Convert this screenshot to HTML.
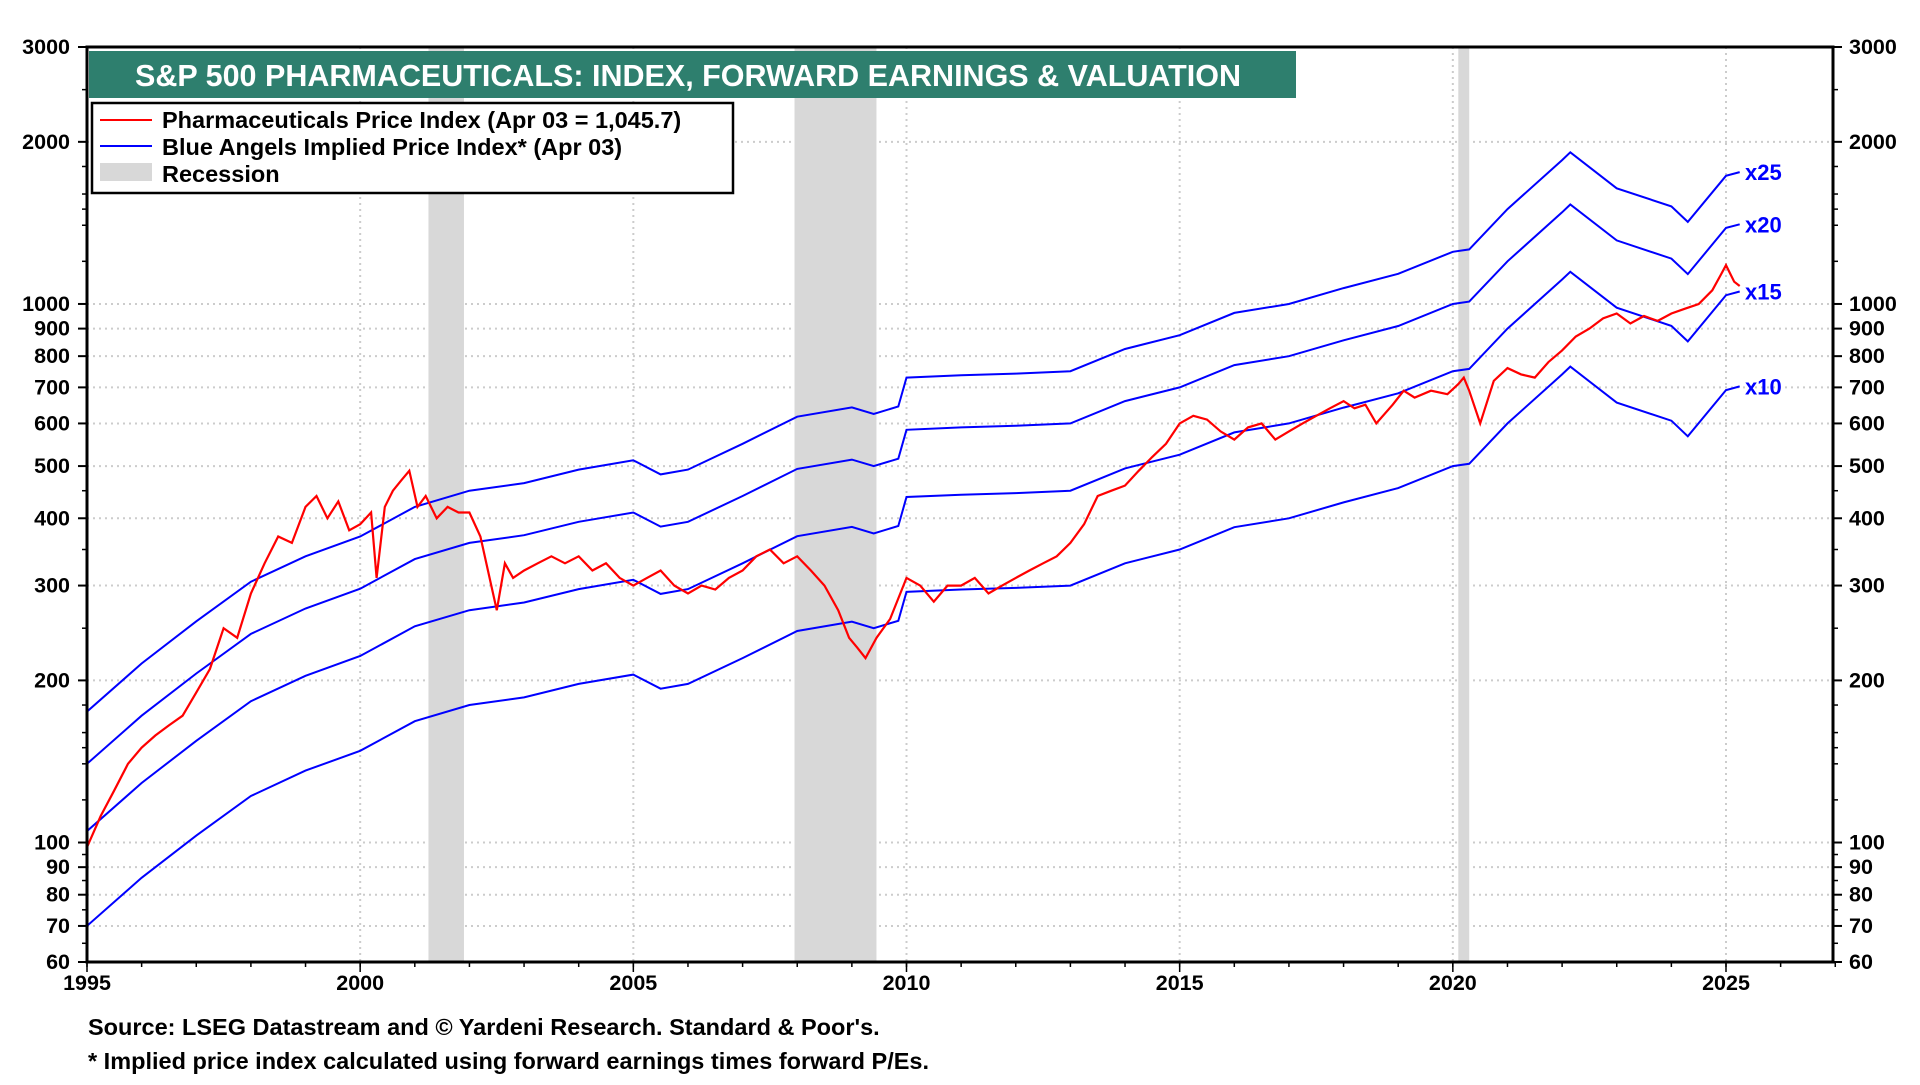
<!DOCTYPE html>
<html><head><meta charset="utf-8"><style>
body{margin:0;background:#fff;width:1920px;height:1080px;overflow:hidden;font-family:"Liberation Sans",Arial,sans-serif}
svg text{font-family:"Liberation Sans",Arial,sans-serif;font-weight:bold}
</style></head><body>
<svg id="chart" width="1920" height="1080" xmlns="http://www.w3.org/2000/svg">
<defs><clipPath id="plotclip"><rect x="87" y="47" width="1746" height="915"/></clipPath></defs>
<g id="grid"></g>
<g id="rec"></g>
<g id="series" clip-path="url(#plotclip)"></g>
<g id="labels"></g>
<g id="axes"></g>
<rect x="89" y="51" width="1207" height="47" fill="#2e7f6e"/>
<text x="135" y="86" font-size="30.5" fill="#fff">S&amp;P 500 PHARMACEUTICALS: INDEX, FORWARD EARNINGS &amp; VALUATION</text>
<g>
<rect x="92" y="103" width="641" height="90" fill="#fff" stroke="#000" stroke-width="2.5"/>
<line x1="100" y1="120" x2="152" y2="120" stroke="#f00" stroke-width="2"/>
<text x="162" y="128" font-size="23.5">Pharmaceuticals Price Index (Apr 03 = 1,045.7)</text>
<line x1="100" y1="146" x2="152" y2="146" stroke="#00f" stroke-width="2"/>
<text x="162" y="155" font-size="23.5">Blue Angels Implied Price Index* (Apr 03)</text>
<rect x="100" y="163" width="52" height="18" fill="#d8d8d8"/>
<text x="162" y="182" font-size="23.5">Recession</text>
</g>
<text x="88" y="1035" font-size="23.5">Source: LSEG Datastream and © Yardeni Research. Standard &amp; Poor's.</text>
<text x="88" y="1069" font-size="23.5">* Implied price index calculated using forward earnings times forward P/Es.</text>
</svg>
<script>
const yTicks=[3000,2000,1000,900,800,700,600,500,400,300,200,100,90,80,70,60];
const yMinor=[2500,1500,1800,1600,1400,1200,450,350,250,150,65,75,85,95,180,160,140,120];
const xTicks=[1995,2000,2005,2010,2015,2020,2025];
const recessions=[[2001.25,2001.9],[2007.95,2009.45],[2020.1,2020.3]];
const multiples=[10,15,20,25];
const multLabels=["x10","x15","x20","x25"];
const earnDates=[1995,1996,1997,1998,1999,2000,2001,2002,2003,2004,2005,2005.5,2006,2007,2008,2009,2009.4,2009.85,2010,2011,2012,2013,2014,2015,2016,2017,2018,2019,2020,2020.3,2021,2022,2022.15,2023,2024,2024.3,2025,2025.25];
const earnVals=[7.0,8.6,10.3,12.2,13.6,14.8,16.8,18.0,18.6,19.7,20.5,19.3,19.7,22.0,24.7,25.7,25.0,25.8,29.2,29.5,29.7,30.0,33.0,35.0,38.5,40.0,42.8,45.5,50.0,50.5,60.0,74.0,76.5,65.6,60.7,56.8,69.2,70.3];
const priceDates=[1995,1995.25,1995.5,1995.75,1996,1996.25,1996.5,1996.75,1997,1997.25,1997.5,1997.75,1998,1998.25,1998.5,1998.75,1999,1999.2,1999.4,1999.6,1999.8,2000,2000.2,2000.3,2000.45,2000.6,2000.75,2000.9,2001.05,2001.2,2001.4,2001.6,2001.8,2002,2002.2,2002.4,2002.5,2002.65,2002.8,2003,2003.25,2003.5,2003.75,2004,2004.25,2004.5,2004.75,2005,2005.25,2005.5,2005.75,2006,2006.25,2006.5,2006.75,2007,2007.25,2007.5,2007.75,2008,2008.25,2008.5,2008.75,2008.95,2009.1,2009.25,2009.45,2009.7,2010,2010.25,2010.5,2010.75,2011,2011.25,2011.5,2011.75,2012,2012.25,2012.5,2012.75,2013,2013.25,2013.5,2013.75,2014,2014.25,2014.5,2014.75,2015,2015.25,2015.5,2015.75,2016,2016.25,2016.5,2016.75,2017,2017.25,2017.5,2017.75,2018,2018.2,2018.4,2018.6,2018.9,2019.1,2019.3,2019.6,2019.9,2020.1,2020.2,2020.3,2020.5,2020.75,2021,2021.25,2021.5,2021.75,2022,2022.25,2022.5,2022.75,2023,2023.25,2023.5,2023.75,2024,2024.25,2024.5,2024.75,2024.9,2025,2025.15,2025.25];
const priceVals=[98,112,125,140,150,158,165,172,190,210,250,240,290,330,370,360,420,440,400,430,380,390,410,310,420,450,470,490,420,440,400,420,410,410,370,300,270,330,310,320,330,340,330,340,320,330,310,300,310,320,300,290,300,295,310,320,340,350,330,340,320,300,270,240,230,220,240,260,310,300,280,300,300,310,290,300,310,320,330,340,360,390,440,450,460,490,520,550,600,620,610,580,560,590,600,560,580,600,620,640,660,640,650,600,650,690,670,690,680,710,730,690,600,720,760,740,730,780,820,870,900,940,960,920,950,930,960,980,1000,1060,1130,1180,1100,1080,1070,1046];
const X0=87,X1=1833,Y0=47,Y1=962;
const xs=t=>X0+(t-1995)*(1726-87)/30;
const ys=v=>Y0+(Math.log10(3000)-Math.log10(v))*(Y1-Y0)/Math.log10(50);
const NS="http://www.w3.org/2000/svg";
function mk(tag,attrs,parent,txt){const e=document.createElementNS(NS,tag);for(const k in attrs)e.setAttribute(k,attrs[k]);if(txt!==undefined)e.textContent=txt;document.getElementById(parent).appendChild(e);return e;}
for(const v of yTicks){
 if(v!==3000&&v!==60){const g=mk('line',{x1:X0,x2:X1,y1:ys(v),y2:ys(v),stroke:'#ccc','stroke-width':2,'stroke-dasharray':'2,4'},'grid');
 
 }
 const l=mk('text',{x:70,y:ys(v)+7,'font-size':21.5,'text-anchor':'end'},'axes',String(v));
 
 
 const r=mk('text',{x:1849,y:ys(v)+7,'font-size':21.5},'axes',String(v));
 
 
 mk('line',{x1:X0-9,x2:X0,y1:ys(v),y2:ys(v),stroke:'#000','stroke-width':2},'axes');
 mk('line',{x1:X1,x2:X1+9,y1:ys(v),y2:ys(v),stroke:'#000','stroke-width':2},'axes');
}
for(const v of yMinor){mk('line',{x1:X0-5,x2:X0,y1:ys(v),y2:ys(v),stroke:'#000','stroke-width':1.5},'axes');mk('line',{x1:X1,x2:X1+5,y1:ys(v),y2:ys(v),stroke:'#000','stroke-width':1.5},'axes');}
for(const t of xTicks){
 if(t!==1995){const g=mk('line',{x1:xs(t),x2:xs(t),y1:Y0,y2:Y1,stroke:'#ccc','stroke-width':2,'stroke-dasharray':'2,4'},'grid');
 
 }
 const l=mk('text',{x:xs(t),y:990,'font-size':21.5,'text-anchor':'middle'},'axes',String(t));
 
 
 mk('line',{x1:xs(t),x2:xs(t),y1:Y1,y2:Y1+10,stroke:'#000','stroke-width':1.5},'axes');
}
for(let t=1995;t<=2027;t++)mk('line',{x1:xs(t),x2:xs(t),y1:Y1,y2:Y1+5,stroke:'#000','stroke-width':1.5},'axes');
mk('rect',{x:X0,y:Y0,width:X1-X0,height:Y1-Y0,fill:'none',stroke:'#000','stroke-width':3},'axes');
for(const r of recessions){const e=mk('rect',{x:xs(r[0]),y:Y0,width:xs(r[1])-xs(r[0]),height:Y1-Y0,fill:'#d8d8d8'},'rec');
 
 }
multiples.forEach((m,i)=>{
 const d=earnDates.map((t,j)=>(j?'L':'M')+xs(t).toFixed(1)+','+ys(earnVals[j]*m).toFixed(1)).join('');
 const p=mk('path',{d:d,fill:'none',stroke:'#00f','stroke-width':2},'series');
 
 
 const L=earnVals[earnVals.length-1]*m;
 const t=mk('text',{x:1745,y:ys(L)+8,'font-size':22,fill:'#00f'},'labels',multLabels[i]);
 
 
});
const pd=priceDates.map((t,j)=>(j?'L':'M')+xs(t).toFixed(1)+','+ys(priceVals[j]).toFixed(1)).join('');
const pp=mk('path',{d:pd,fill:'none',stroke:'#f00','stroke-width':2.2},'series');


</script>
</body></html>
